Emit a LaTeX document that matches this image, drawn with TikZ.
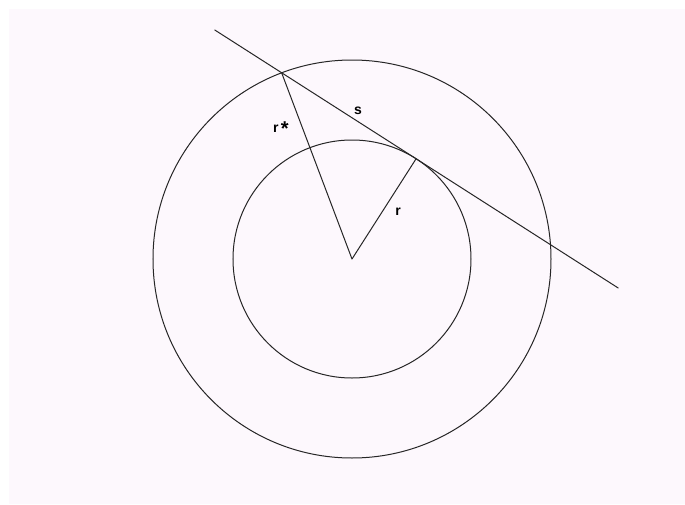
\documentclass[tikz,border=0pt]{standalone}
\usepackage{fontspec}
\setsansfont{Liberation Sans}
\usetikzlibrary{calc}
\definecolor{bgpink}{RGB}{253,248,253}
\tikzset{
  ln/.style={line width=1pt,draw=black!85},
  lb/.style={draw=none,inner sep=0pt,font=\sffamily\bfseries\fontsize{14}{14}\selectfont},
  every picture/.style={line cap=round,line join=round}}
\begin{document}
\begin{tikzpicture}[x=1pt,y=1pt]
  \useasboundingbox (-352,-245) rectangle (333,259);
  \fill[bgpink] (-343,-245) rectangle (333,250);
  \coordinate (o) at (0,0);
  \coordinate (t) at (57.4:119); \coordinate (a) at (110.7:199); \coordinate (b) at (4.1:199);
  \coordinate (e1) at ($(t)+(147.4:239)$); \coordinate (e2) at ($(t)+(-32.6:240)$);
  \draw[ln] (o) circle (199); \draw[ln] (o) circle (119);
  \draw[ln] (e1)--(e2);
  \draw[ln] (a)--(o)--(t);
  \node[lb] (rs) at (-71,130){r\,\raisebox{-0.45ex}{\fontsize{20}{20}\selectfont*}};
  \node[lb] (s) at (6,148){s};
  \node[lb] (r) at (46,47){r};
\end{tikzpicture}
\end{document}
